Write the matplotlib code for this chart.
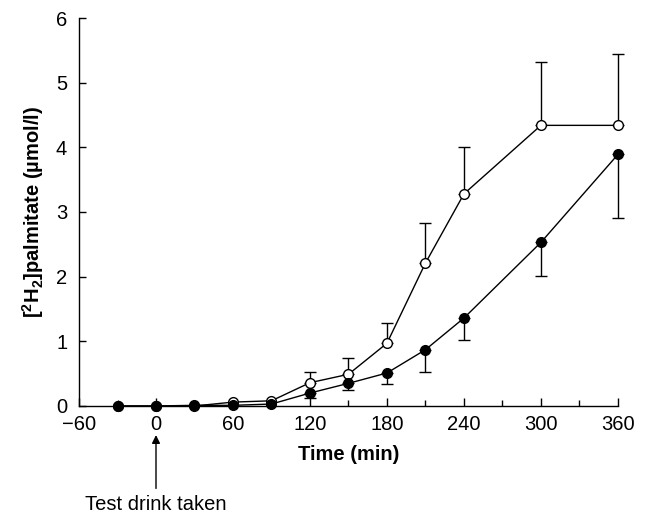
import numpy as np
import matplotlib
matplotlib.use("Agg")
import matplotlib.pyplot as plt
from matplotlib.ticker import MultipleLocator

plt.rcParams['font.family'] = ['Liberation Sans', 'DejaVu Sans']
plt.rcParams['mathtext.fontset'] = 'custom'
plt.rcParams['mathtext.rm'] = 'Liberation Sans'
plt.rcParams['mathtext.bf'] = 'Liberation Sans:bold'

# time points (min)
tiempo = [-30, 0, 30, 60, 90, 120, 150, 180, 210, 240, 300, 360]

# open circles: mean and upper SEM
abierto = [0.0, 0.0, 0.0, 0.06, 0.08, 0.36, 0.49, 0.97, 2.21, 3.28, 4.34, 4.34]
abierto_err = [0.0, 0.0, 0.0, 0.0, 0.0, 0.16, 0.25, 0.31, 0.62, 0.73, 0.98, 1.10]

# filled circles: mean and lower SEM
lleno = [0.0, 0.0, 0.01, 0.01, 0.03, 0.20, 0.35, 0.51, 0.87, 1.36, 2.53, 3.89]
lleno_err = [0.0, 0.0, 0.0, 0.0, 0.0, 0.08, 0.10, 0.17, 0.34, 0.34, 0.52, 0.99]

fs = 14.5

fig = plt.figure(figsize=(6.45, 5.15), dpi=100)
ax = fig.add_axes([0.1225, 0.2117, 0.8355, 0.7533])

t = np.array(tiempo)
a, ae = np.array(abierto), np.array(abierto_err)
f, fe = np.array(lleno), np.array(lleno_err)
ma, mf = ae > 0, fe > 0

# error bars only where there is an error
ax.errorbar(t[ma], a[ma], yerr=[np.zeros(ma.sum()), ae[ma]], fmt='none',
            ecolor='black', elinewidth=1.0, capsize=4.5, capthick=1.0, zorder=2,
            clip_on=False)
ax.errorbar(t[mf], f[mf], yerr=[fe[mf], np.zeros(mf.sum())], fmt='none',
            ecolor='black', elinewidth=1.0, capsize=4.5, capthick=1.0, zorder=2,
            clip_on=False)

ax.plot(t, a, '-o', color='black', mfc='white', mec='black', ms=7, mew=1.0,
        lw=1.0, zorder=3, clip_on=False)
ax.plot(t, f, '-o', color='black', mfc='black', mec='black', ms=7, mew=1.0,
        lw=1.0, zorder=4, clip_on=False)

ax.set_xlim(-60, 360)
ax.set_ylim(0, 6)
ax.xaxis.set_major_locator(MultipleLocator(60))
ax.xaxis.set_minor_locator(MultipleLocator(30))
ax.yaxis.set_major_locator(MultipleLocator(1))
ax.tick_params(axis='both', which='both', direction='in', labelsize=fs, width=1.0)
ax.tick_params(axis='x', which='major', length=6, pad=6.5)
ax.tick_params(axis='x', which='minor', length=4)
ax.tick_params(axis='y', which='major', length=5, pad=8.5)
for s in ['top', 'right']:
    ax.spines[s].set_visible(False)
for s in ['left', 'bottom']:
    ax.spines[s].set_linewidth(1.0)

ax.set_xlabel('Time (min)', fontsize=fs, fontweight='bold', labelpad=8)
ax.set_ylabel(r'[$\mathbf{^2}$H$\mathbf{_2}$]palmitate (µmol/l)', fontsize=fs,
              fontweight='bold', labelpad=7)

ax.annotate('Test drink taken', xy=(0, -0.075), xycoords=('data', 'axes fraction'),
            xytext=(0, -0.255), textcoords=('data', 'axes fraction'),
            ha='center', va='center', fontsize=fs,
            arrowprops=dict(arrowstyle='-|>', color='black', lw=1.0,
                            mutation_scale=12, shrinkA=3, shrinkB=0))

fig.savefig('out.png', dpi=100)
